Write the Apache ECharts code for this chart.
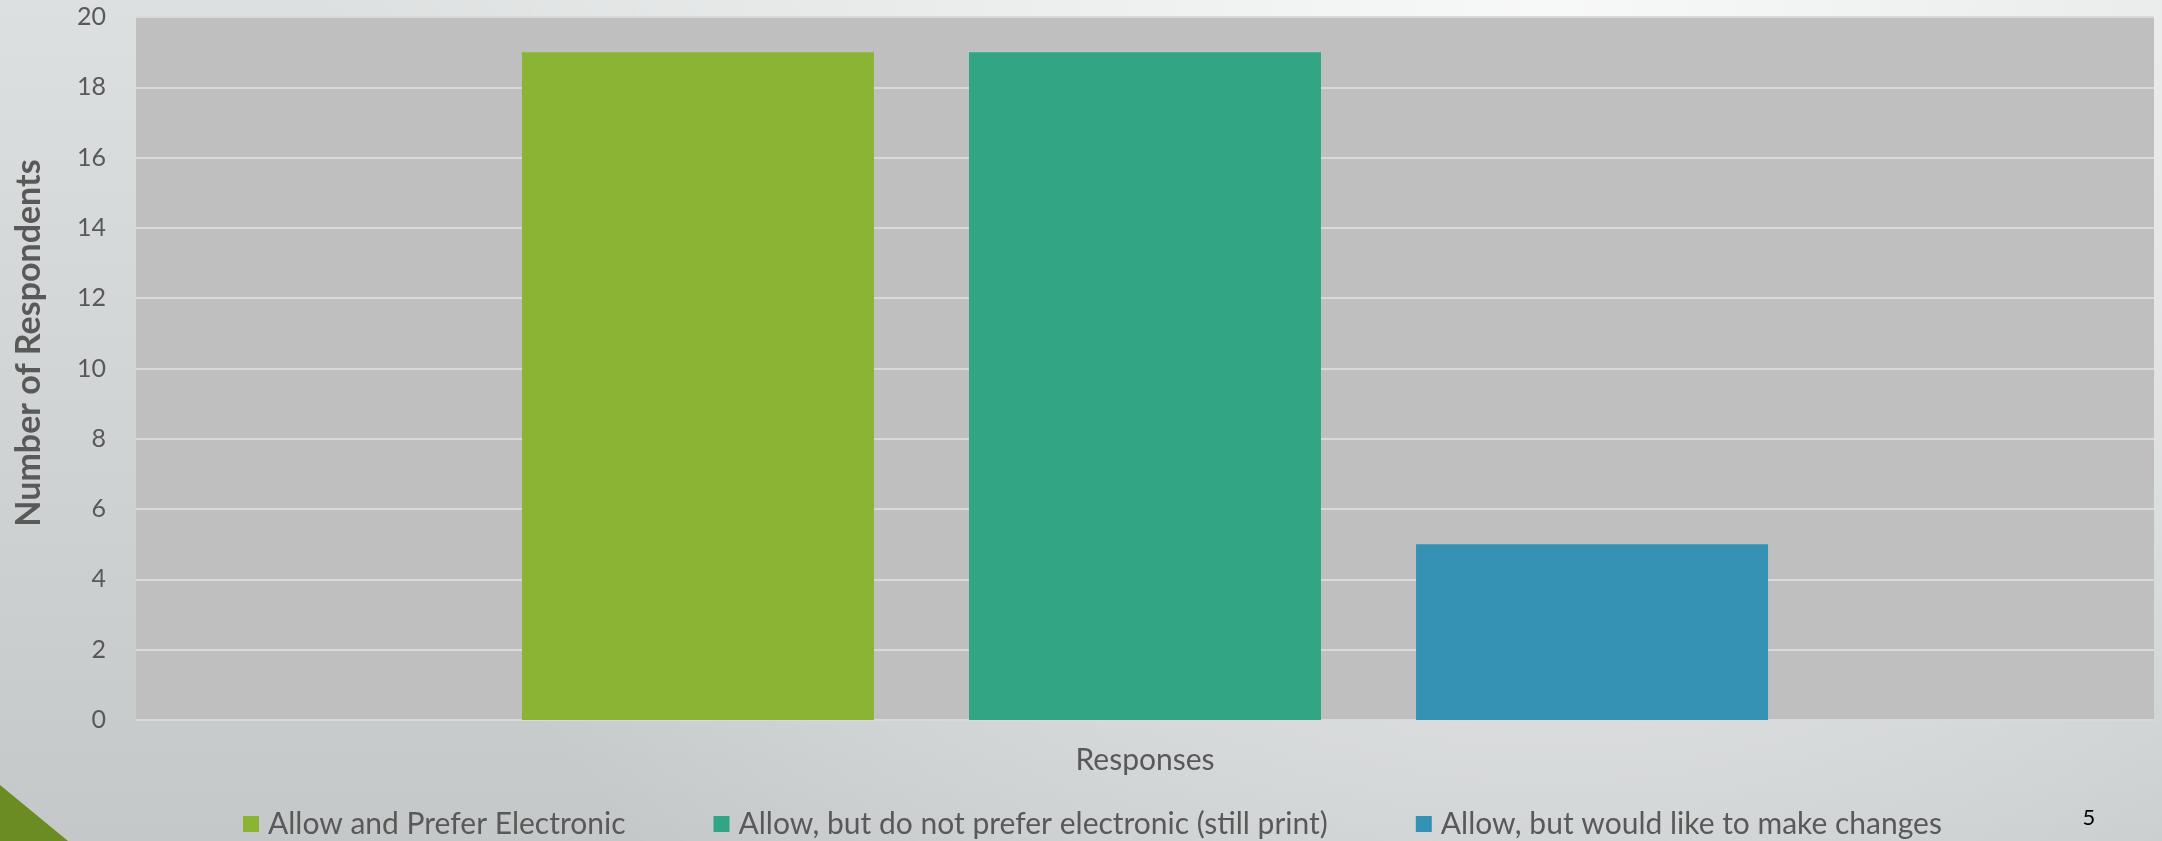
<!DOCTYPE html>
<html>
<head>
<meta charset="utf-8">
<style>
  html, body { margin: 0; padding: 0; }
  #chart { width: 2162px; height: 841px; }
</style>
<script src="https://cdn.jsdelivr.net/npm/echarts@6/dist/echarts.min.js"></script>
</head>
<body>
<div id="chart"></div>
<script>
const categories = ['Responses'];
const seriesNames = [
  'Allow and Prefer Electronic',
  'Allow, but do not prefer electronic (still print)',
  'Allow, but would like to make changes'
];
const preferElectronic = [19];
const notPreferElectronic = [19];
const likeChanges = [5];
const yTicks = { min: 0, max: 20, interval: 2 };
const yAxisTitle = 'Number of Respondents';
const pageNumber = '5';

const seriesValues = [preferElectronic, notPreferElectronic, likeChanges];
const colors = ['#8bb334', '#32a585', '#3592b5'];
const textColor = '#595959';
const font = 'Lato, "Liberation Sans", sans-serif';

const chart = echarts.init(document.getElementById('chart'), null, { renderer: 'canvas' });

chart.setOption({
  backgroundColor: {
    type: 'linear', x: 0, y: 0, x2: 0, y2: 1,
    colorStops: [
      { offset: 0, color: '#dde0e0' },
      { offset: 1, color: '#c4c8c9' }
    ]
  },
  animation: false,
  textStyle: { fontFamily: font },
  grid: {
    left: 136, right: 8, top: 17, bottom: 121,
    show: true, backgroundColor: '#bfbfbf', borderWidth: 0
  },
  legend: {
    data: seriesNames,
    left: 243, top: 809, padding: 0,
    itemWidth: 16, itemHeight: 16, itemGap: 88,
    icon: 'rect',
    textStyle: { color: textColor, fontSize: 30, fontFamily: font, padding: [0, 0, 0, 4] }
  },
  xAxis: {
    type: 'category',
    data: categories,
    axisLine: { show: true, lineStyle: { color: '#d9d9d9', width: 2 } },
    axisTick: { show: false },
    axisLabel: { color: textColor, fontSize: 30, margin: 25, fontFamily: font }
  },
  yAxis: {
    type: 'value',
    min: yTicks.min, max: yTicks.max, interval: yTicks.interval,
    axisLine: { show: false },
    axisTick: { show: false },
    axisLabel: { color: textColor, fontSize: 25, margin: 30, fontFamily: font },
    splitLine: { show: true, lineStyle: { color: '#d9d9d9', width: 2 } }
  },
  series: seriesNames.map((name, i) => ({
    name: name,
    type: 'bar',
    data: seriesValues[i],
    barWidth: 352,
    barGap: '27%',
    itemStyle: { color: colors[i] }
  })),
  graphic: [
    {
      type: 'rect', silent: true, z: -100,
      shape: { x: 0, y: 0, width: 2162, height: 841 },
      style: {
        fill: {
          type: 'radial', global: true, x: 1550, y: 0, r: 1250,
          colorStops: [
            { offset: 0, color: 'rgba(255,255,255,0.78)' },
            { offset: 1, color: 'rgba(255,255,255,0)' }
          ]
        }
      }
    },
    {
      type: 'polygon', silent: true, z: 0,
      shape: { points: [[0, 785], [68, 841], [0, 841]] },
      style: { fill: '#6b8c23' }
    },
    {
      type: 'text', x: 29, y: 343, rotation: Math.PI / 2,
      style: {
        text: yAxisTitle, fill: textColor,
        font: 'bold 34px ' + font,
        align: 'center', verticalAlign: 'middle'
      }
    },
    {
      type: 'text', x: 2089, y: 818,
      style: {
        text: pageNumber, fill: '#000000',
        font: '22px ' + font,
        align: 'center', verticalAlign: 'middle'
      }
    }
  ]
});
</script>
</body>
</html>
